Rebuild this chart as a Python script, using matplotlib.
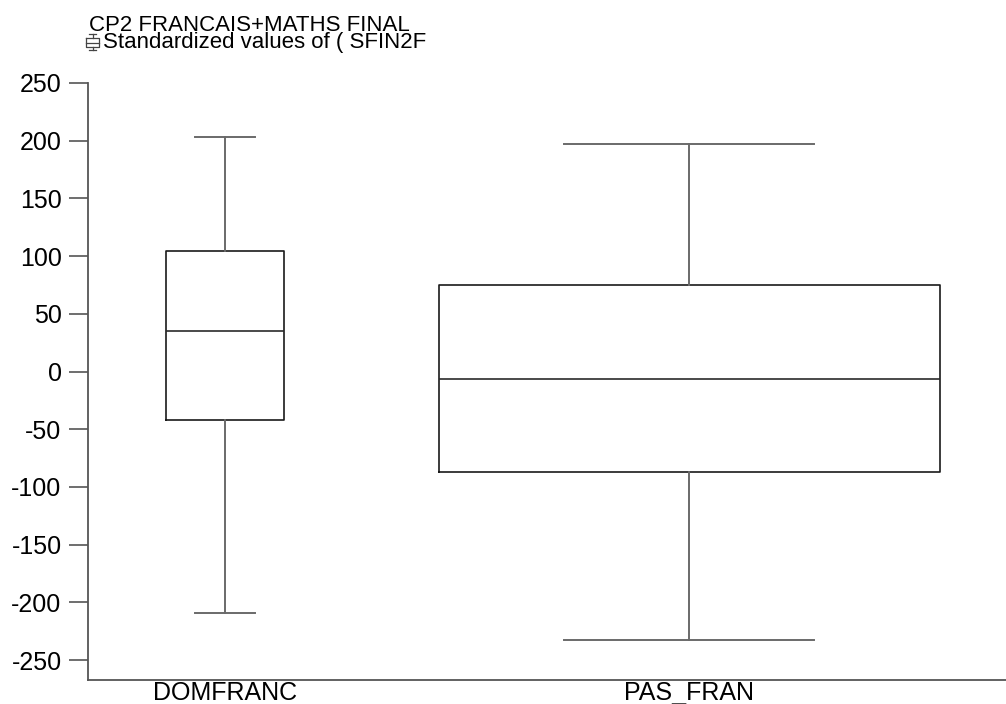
import matplotlib

matplotlib.use("Agg")
import matplotlib.pyplot as plt
from matplotlib.lines import Line2D

plt.rcParams["font.family"] = ["Liberation Sans", "DejaVu Sans"]
plt.rcParams["axes.unicode_minus"] = False

# box plot summaries (standardized values)
groups = ["DOMFRANC", "PAS_FRAN"]
whisker_low = [-209, -232.7]
q1 = [-42.3, -87.1]
median = [35.4, -6.2]
q3 = [104.4, 75.2]
whisker_high = [203, 197.4]
y_ticks = [250, 200, 150, 100, 50, 0, -50, -100, -150, -200, -250]

title = "CP2 FRANCAIS+MATHS FINAL"
legend_text = "Standardized values of ( SFIN2F"

W, H = 1006, 704
fig = plt.figure(figsize=(W / 100, H / 100), dpi=100)
ax = fig.add_axes([88 / W, (H - 680) / H, (W - 88) / W, (680 - 83) / H])

stats = []
for i, g in enumerate(groups):
    stats.append({
        "label": g,
        "whislo": whisker_low[i],
        "q1": q1[i],
        "med": median[i],
        "q3": q3[i],
        "whishi": whisker_high[i],
        "fliers": [],
    })

# x in pixel-like units across the axes, SPSS style widths
ax.bxp(
    stats,
    positions=[137, 601],
    widths=[118, 501],
    capwidths=[60, 250],
    showfliers=False,
    boxprops=dict(color="#1a1a1a", linewidth=1.2),
    medianprops=dict(color="#2a2a2a", linewidth=1.2),
    whiskerprops=dict(color="#6a6a6a", linewidth=1.4),
    capprops=dict(color="#6a6a6a", linewidth=1.4),
)
ax.set_xlim(0, 918)
ax.set_ylim(-267.3, 250)
ax.set_yticks(y_ticks)

for s in ["top", "right"]:
    ax.spines[s].set_visible(False)
for s in ["left", "bottom"]:
    ax.spines[s].set_color("#555555")
    ax.spines[s].set_linewidth(1.3)

ax.tick_params(axis="y", length=14, width=1.2, color="#555555", pad=5, labelsize=18)
ax.tick_params(axis="x", length=0, pad=1, labelsize=18)

# header
fig.text(89 / W, 1 - 31 / H, title, fontsize=16, va="baseline", ha="left")
fig.text(103 / W, 1 - 48 / H, legend_text, fontsize=16, va="baseline", ha="left")


# tiny boxplot glyph in front of the legend text
def px(x, y):
    return x / W, 1 - y / H


icon = [
    [(89, 34), (96, 34)],
    [(92.5, 34), (92.5, 38)],
    [(86, 38), (99, 38), (99, 47), (86, 47), (86, 38)],
    [(86, 42.5), (99, 42.5)],
    [(92.5, 47), (92.5, 50)],
    [(89, 50), (96, 50)],
]
for seg in icon:
    xs, ys = zip(*[px(a, b) for a, b in seg])
    fig.add_artist(Line2D(xs, ys, transform=fig.transFigure, color="#444444", linewidth=0.9))

fig.savefig("out.png", dpi=100)
plt.close(fig)
